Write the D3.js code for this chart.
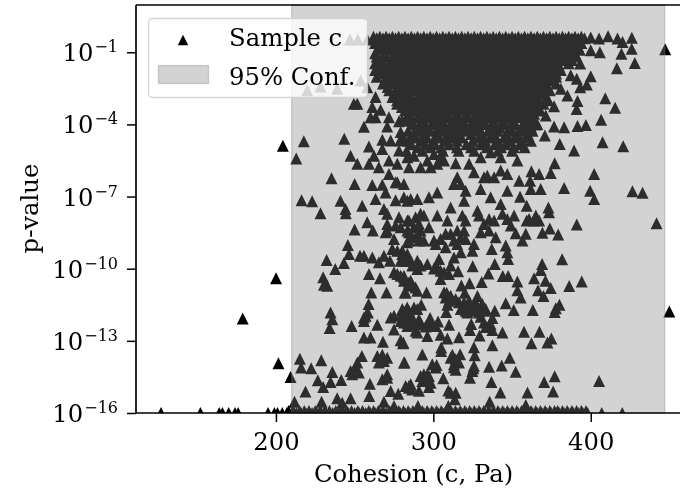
<!DOCTYPE html>
<html><head><meta charset="utf-8">
<script src="https://cdnjs.cloudflare.com/ajax/libs/d3/7.8.5/d3.min.js"></script>
<style>html,body{margin:0;padding:0;background:#fff}svg{display:block;filter:blur(0.4px)}text{font-family:"DejaVu Serif",serif;fill:#000}</style>
</head><body><div id="chart"></div>
<script>
const xTicks=[200,300,400];
const yTickExps=[-1,-4,-7,-10,-13,-16];
const xLabel="Cohesion (c, Pa)";
const yLabel="p-value";
const legendLabels=["Sample c","95% Conf."];
const confInterval=[210,447];
const floorExp=-16;
const nearFloorExp=-15.92;
// samples pinned at the p-value floor
const floorC=[127,152,164,166,170,174,176,195,199,201,204,207,210,213,216,219,223,226,229,232,236,240,243,246,250,253,257,260,263,266,270,273,276,279,282,285,288,291,294,297,300,303,306,309,312,315,318,321,324,327,330,333,336,339,342,345,348,351,354,357,360,363,366,369,372,375,378,380,383,386,389,392,395,398,407,420];
const nearFloorC=[208,211,215,218,221,225,228,231,234,238,242,245,248,252,255,259,262,265,268,272,275,278,281,284,287,290,293,296,299,302,305,308,311,314,317,320,323,326,329,332,335,338,341,344,347,350,353,356,359,362,365,368,371,374,377,379,382,385,388,391,394,397];
// rows through the dense cloud
const denseExp=[-0.36,-0.62,-0.9,-1.18,-1.46,-1.74,-2.02,-2.3,-2.58,-2.86,-3.14,-3.42,-3.7,-3.98,-4.26,-4.54,-4.82,-5.1];
const denseC=[
[262,266,270,274,278,282,286,290,294,298,302,306,310,314,318,322,326,330,334,338,342,346,350,354,358,362,366,370,374,378,382,386,390,394],
[263,269,275,280,285,290,295,300,305,310,315,320,325,330,335,340,345,350,355,360,365,370,375,380,385,390,394],
[266,272,278,283,288,293,298,303,308,313,318,323,328,333,338,343,348,353,358,363,368,373,378,383,388,393],
[264,270,276,281,286,291,296,301,306,311,316,321,326,331,336,341,346,351,356,361,366,371,376,381,386,391],
[263,268,274,279,284,289,294,299,304,309,314,319,324,329,334,339,344,349,354,359,364,369,374,379,386],
[263,270,276,281,286,291,296,301,306,311,316,321,326,331,336,341,346,351,356,361,366,371,376,381],
[264,271,277,282,287,292,297,302,307,312,317,322,327,332,337,342,347,352,357,362,367,372,378],
[268,274,280,285,290,295,300,305,310,315,320,325,330,335,340,345,350,355,360,365,370,378],
[272,278,283,288,293,298,303,308,313,318,323,328,333,338,343,348,353,358,363,368,374],
[274,280,285,290,295,300,305,310,315,320,325,330,335,340,345,350,355,360,365,372],
[277,283,289,294,299,304,309,314,319,324,329,334,339,344,349,354,359,364,370],
[282,288,294,300,306,312,318,324,330,336,342,348,354,360,368],
[283,290,296,303,309,316,322,329,335,342,348,355,361],
[287,293,300,307,313,319,326,332,339,345,352,360,366],
[284,291,298,306,312,320,327,335,341,349,356,363],
[281,289,296,304,313,318,329,336,345,352,359],
[286,295,301,310,321,330,339,346,355],
[283,293,306,316,326,341,350]];
// staggered rows that close the gaps inside the dense cloud
const fillExp=[-0.42,-0.76,-1.04,-1.32,-1.6,-1.88,-2.16,-2.44,-2.72,-3,-3.28,-3.56,-3.84,-4.12,-4.4,-4.68,-4.95];
const fillC=[
[264,268,272,276,280,284,288,292,296,300,304,308,312,316,320,324,328,332,336,340,344,348,352,356,360,364,368,372,376,380,384,388,392,396],
[266,272,277,282,287,292,297,302,307,312,317,322,327,332,337,342,347,352,357,362,367,372,377,382,387,392],
[263,269,275,280,285,290,295,300,305,310,315,320,325,330,335,340,345,350,355,360,365,370,375,380,385,390],
[267,273,278,283,288,293,298,303,308,313,318,323,328,333,338,343,348,353,358,363,368,373,378,383,388],
[266,271,276,281,286,291,296,301,306,311,316,321,326,331,336,341,346,351,356,361,366,371,376,380],
[267,273,278,283,288,293,298,303,308,313,318,323,328,333,338,343,348,353,358,363,368,373,378],
[269,274,279,284,289,294,299,304,309,314,319,324,329,334,339,344,349,354,359,364,369,375],
[271,277,282,287,292,297,302,307,312,317,322,327,332,337,342,347,352,357,362,367,372],
[275,280,285,291,296,301,306,311,316,321,326,331,336,341,346,351,356,361,366,370],
[277,282,287,292,297,302,307,312,317,322,327,332,337,342,347,352,357,362,367,373],
[280,286,291,296,301,306,311,316,321,326,331,336,341,346,351,356,361,366],
[285,291,297,303,309,315,321,327,333,339,345,351,357,364],
[280,286,293,300,306,313,319,326,332,338,345,351,358,363],
[290,296,303,310,316,323,329,336,342,349,356,362],
[287,294,302,309,316,324,331,338,346,353,360],
[284,292,300,308,315,325,333,341,349,356,362],
[290,298,305,315,324,334,343,351,358]];
// individually read samples: c (Pa), log10(p)
const upperTail=[[247,-0.47],[252,-0.47],[258,-0.47],[400,-0.39],[405.3,-0.43],[411,-0.33],[417,-0.43],[420.2,-0.57],[426.1,-0.4],[426,-0.85],[419.5,-1.06],[428,-1.45],[416.6,-1.67],[447.3,-0.88],[400,-0.92],[405.8,-1],[393.3,-1.47],[387.3,-1.96],[391.1,-2.1],[400,-2],[393.3,-2.45],[397.5,-2.34],[381,-2.52],[385.2,-2.8],[391.6,-3.03],[391,-3.36],[409.2,-2.91],[415.5,-3.31],[406.6,-3.81],[396.9,-4.02],[391.6,-4.07],[383.1,-4.12],[376.7,-4.09],[371.4,-3.63],[376.7,-3.25],[365.1,-4],[370.8,-4.46],[407.5,-4.74],[420.6,-4.91],[389.4,-5.09],[380.3,-4.81],[377.1,-5.62],[374.6,-6.02],[402.2,-6.06],[383.1,-6.64],[399.6,-6.76],[402.2,-7.1],[426.5,-6.78],[432.9,-6.84],[367.2,-6.06],[362.3,-5.95],[361.5,-6.34],[361.9,-6.69],[368.2,-6.69],[354.5,-6.34],[347,-6.76],[355.1,-7.01],[359.3,-7.38],[373.1,-7.45]];
const legendSide=[[219.9,-2.58],[228.3,-2.42],[238.9,-2.52],[253.8,-2.17],[258,-2.45],[249.5,-3.14],[251.7,-3.14],[263.3,-2.86],[261.2,-3.28],[266.5,-3.39],[263.3,-3.7],[260.1,-3.7],[255.9,-4.1],[271.8,-3.7],[270.7,-4.09],[278.2,-3.87],[284.5,-3.77],[279.2,-4.32],[204.4,-4.89],[217.7,-4.7],[243.4,-4.6],[212.9,-5.42],[247.4,-5.3],[251.7,-5.64],[259.1,-4.92],[262.3,-5.3],[259.1,-5.64],[265.4,-5.78],[267.6,-4.64],[267.6,-5.02],[272.9,-4.67],[278.8,-4.67],[278.2,-5.09],[271.8,-5.5],[277.1,-5.64],[283.5,-5.37],[271.8,-6.06],[277.1,-6.41],[284.5,-5.78],[281.3,-6.48],[235.3,-6.24],[250,-6.48],[261.2,-6.52],[267.6,-6.51],[269.7,-6.83],[276,-6.41],[276,-7.15],[263.3,-7.1],[283.5,-7.17],[216.3,-7.15],[223,-7.2],[241,-7.17],[254.8,-7.38],[244.2,-7.52],[268.6,-7.52]];
const midCluster=[[300.4,-5.23],[296.2,-5.5],[304.6,-5.37],[291.9,-5.78],[298.3,-5.78],[302.5,-5.64],[287.7,-5.3],[306.8,-5.5],[314.2,-5.62],[325.8,-5.99],[322.7,-5.64],[330.1,-5.37],[336.4,-5.16],[342.8,-5.37],[353.4,-5.5],[342.8,-5.92],[347,-6.06],[334.3,-6.13],[332.2,-6.2],[338.6,-6.2],[315.2,-6.2],[313.1,-6.48],[317.4,-6.48],[320.5,-6.76],[330.1,-6.69],[336.4,-7.03],[342.8,-7.31],[311,-7.45],[297.2,-7.03],[285.6,-7.1],[289.8,-7.1],[281.3,-7.03],[302.5,-6.83],[319.5,-7.17],[328,-7.59]];
const lowerLeft=[[200.1,-10.4],[178.9,-12.07],[201.6,-13.93],[228.3,-7.69],[244.4,-7.69],[258,-8.07],[261.6,-8.41],[250,-8.37],[270.7,-8.14],[269.7,-8.48],[276,-8.2],[278.2,-7.86],[270.7,-7.72],[283.5,-8],[245.7,-9.01],[246.4,-9.39],[253.4,-9.46],[255.9,-9.46],[261.2,-9.53],[265.4,-9.73],[268.6,-9.46],[272.4,-9.67],[273.9,-9.18],[280.3,-9.25],[281.3,-9.67],[275,-8.76],[284.5,-8.83],[232.2,-9.64],[237.7,-10.01],[243.2,-9.76],[259.1,-10.22],[266.1,-10.4],[275,-10.15],[279.2,-10.29],[284.5,-10.57],[230,-10.36],[230.5,-10.67],[232.6,-10.71],[260.6,-10.99],[270.3,-10.99],[281.8,-10.99],[258.9,-11.47],[234.7,-11.82],[235.8,-12.1],[234.1,-12.47],[248.1,-12.38],[257,-11.96],[255.9,-12.17],[264.4,-12.33],[275,-12.53],[275,-11.96],[280.3,-11.75],[281.3,-12.24],[284.5,-11.75],[255.9,-12.86],[260.1,-12.86],[268,-13.04],[279.2,-12.97],[280.9,-13.1],[254.6,-13.63],[267.6,-13.58],[270.7,-13.7],[265.4,-13.9],[281.3,-13.9],[215.2,-13.74],[216,-14.11],[222.4,-14.14],[228.8,-13.81],[235.8,-14.29],[209.3,-14.5],[251.7,-13.9],[247.4,-14.25],[252.7,-14.32],[241.5,-14.63],[234.7,-14.71],[226.6,-14.64],[230,-14.92],[270.7,-14.39],[267.6,-14.6],[259.7,-14.78],[284.5,-14.88],[218.8,-15.11],[272.9,-15.09],[277.7,-15.2],[259.3,-15.29],[268.6,-15.53],[247.4,-15.39],[238.9,-15.39],[242.1,-15.57],[229,-15.53],[211.8,-15.53],[275,-15.71],[264.4,-13.63],[268.6,-13.84],[270.7,-14.53],[248.5,-14.39],[250.6,-14.11],[277.1,-9.25],[283.5,-9.39],[283.5,-9.67],[277.1,-10.22],[281.3,-10.36],[280.3,-11.89],[283.5,-12.03],[283.5,-12.38],[272.9,-12.03],[255.9,-12.03],[258.4,-11.82],[279.2,-8.28],[270.7,-8.41],[283.5,-8.41]];
const lowerRight=[[441.8,-8.11],[391.1,-8.16],[379.3,-8.58],[374,-8.33],[369.3,-8.5],[381.8,-9.61],[394.3,-10.53],[386.3,-10.72],[369.1,-9.8],[368.2,-10.05],[364,-10.4],[371.2,-10.5],[374.6,-10.8],[366.5,-10.9],[370,-11.14],[380.1,-11.5],[377.8,-11.64],[377.1,-11.8],[363.2,-11.72],[351.1,-11.72],[346,-11.44],[355.5,-11.2],[353.4,-10.9],[353.4,-10.53],[347.5,-10.3],[344.1,-10.3],[339,-9.8],[325,-9.9],[335,-10.2],[330.7,-10.55],[323,-10.6],[317.8,-10.7],[328,-11.14],[320,-11],[308.5,-11],[307.8,-11.2],[314.2,-11.26],[308.9,-11.5],[308.2,-11.8],[319.5,-11.6],[322.6,-11.6],[325.8,-11.54],[330,-11.6],[332.2,-11.75],[320.5,-11.75],[324.8,-11.75],[339,-11.75],[337.5,-12.05],[330,-12],[335.4,-12.4],[333.3,-12.42],[337.5,-12.55],[324.1,-12.3],[323.3,-12.55],[310,-12.33],[297.9,-12.05],[303,-12.2],[297.2,-12.3],[295.1,-12.4],[289.8,-12.65],[296.2,-12.8],[304.6,-12.75],[308.9,-12.9],[316.3,-12.85],[329.4,-12.78],[343.9,-12.65],[357.6,-12.62],[367.4,-12.62],[362.3,-13.1],[372.5,-13.07],[375,-12.9],[337.5,-13.18],[449.9,-11.78],[325.8,-13.27],[326.3,-13.6],[305,-13.28],[305,-13.42],[293,-13.57],[312.1,-13.58],[317,-13.56],[316.3,-13.9],[313.1,-14.1],[314.2,-14.2],[302.1,-14],[281.7,-13.9],[325.4,-14.14],[323.3,-14.53],[335.4,-14.08],[343.4,-14.03],[348.5,-13.7],[352.3,-14.28],[336.9,-14.71],[342.6,-15.15],[335.8,-15.53],[359.8,-15.15],[370.4,-14.71],[377.1,-14.47],[376.1,-15.11],[405.3,-14.67],[306.3,-14.56],[309.5,-15.06],[314.2,-15.16],[313.6,-15.43],[294,-14.39],[297.2,-14.46],[297.2,-14.92],[293,-14.67],[285.6,-14.8],[290.9,-15.08],[290.2,-15.71],[309.5,-15.71],[358.7,-15.67],[291.9,-7.72],[302.5,-7.79],[308.9,-8],[318.4,-7.79],[320.5,-8],[329,-7.79],[335.4,-7.93],[343.9,-7.72],[347,-7.93],[351.3,-7.79],[359.3,-8],[365.1,-7.79],[367.2,-8],[373.5,-7.65],[287.7,-8.28],[290.9,-8.14],[297.2,-8.28],[286.6,-8.69],[289.8,-8.55],[294,-8.83],[300.4,-8.83],[301.5,-8.97],[307.8,-9.11],[307.8,-8.55],[315.2,-8.41],[317.4,-8.69],[315.2,-8.97],[325.8,-8.97],[330.1,-8.48],[335.4,-8.41],[339.6,-8.69],[352.3,-8.53],[356.6,-8.83],[358.7,-8.55],[324.8,-9.25],[337.1,-9.18],[346,-9.04],[347,-9.32],[347.5,-9.6],[317.4,-9.32],[313.1,-9.53],[311,-9.87],[315.7,-10.11],[304.6,-10.08],[302.5,-9.94],[303.6,-9.6],[296.2,-9.8],[289.8,-9.67],[285.6,-9.67],[289.8,-10.01],[280.3,-9.39],[279.2,-9.67],[281.3,-10.29],[285.6,-10.5],[288.7,-10.78],[295.7,-10.99],[282.4,-10.99],[280.3,-11.68],[283.4,-11.61],[287.7,-11.61],[292.3,-11.5],[285.6,-11.89],[283.4,-12.24],[287.7,-12.31],[279.2,-12.17],[280.9,-13.07],[284.5,-8],[288.7,-7.86],[294,-7.79],[291.9,-8.41],[284.5,-8.48],[283.4,-8.9],[290.9,-8.83],[304.6,-8.76],[311,-8.55],[313.1,-8.83],[319.5,-8.41],[320.5,-8.76],[332.2,-8.14],[338.6,-8],[349.2,-8.2],[360.8,-7.93],[364,-8],[283.4,-9.67],[286.6,-9.87],[291.9,-9.87],[300.4,-9.99],[306.8,-10.15],[309.9,-10.22],[304.6,-10.43],[281.3,-10.5],[284.5,-10.71],[289.8,-10.92],[306.8,-10.98],[311,-11.12],[309.9,-11.33],[316.3,-11.4],[319.5,-11.4],[322.7,-11.33],[326.9,-11.4],[331.1,-11.47],[333.3,-11.68],[317.4,-11.68],[321.6,-11.82],[329,-11.82],[282.4,-11.75],[289.8,-11.68],[281.3,-12],[286.6,-12.1],[290.9,-12.1],[291.9,-12.31],[298.3,-12.31],[301.5,-12.38],[332.2,-12.24],[336.4,-12.31],[288.7,-12.58],[311,-13.7],[314.2,-13.77],[313.1,-13.97],[296.2,-14.39],[291.9,-14.46],[295.1,-14.67],[298.3,-14.74],[284.5,-14.95],[286.6,-15.02],[282.4,-14.88],[311,-15.16],[324.8,-14.25],[325.8,-14.04],[301.5,-14.11],[299.3,-13.97]];

const W=680,H=491,m={l:136,r:680,t:5,b:413};
const x=d3.scaleLinear().domain([111.1,456.7]).range([m.l,m.r]);
const y=d3.scaleLog().domain([1e-16,Math.pow(10,0.965)]).range([m.b,m.t]);
const svg=d3.select("#chart").append("svg").attr("width",W).attr("height",H);
svg.append("defs").append("clipPath").attr("id","plot").append("rect").attr("x",m.l).attr("y",m.t).attr("width",m.r-m.l).attr("height",m.b-m.t);

const points=[];
floorC.forEach(c=>points.push([c,floorExp]));
nearFloorC.forEach(c=>points.push([c,nearFloorExp]));
denseExp.forEach((e,i)=>denseC[i].forEach(c=>points.push([c,e])));
fillExp.forEach((e,i)=>fillC[i].forEach(c=>points.push([c,e])));
[upperTail,legendSide,midCluster,lowerLeft,lowerRight].forEach(g=>g.forEach(p=>points.push(p)));
const triangleUp={draw(ctx,size){const r=Math.sqrt(size)/2;ctx.moveTo(0,-r);ctx.lineTo(r,r);ctx.lineTo(-r,r);ctx.closePath();}};
const tri=d3.symbol().type(triangleUp).size(144);
svg.append("g").attr("clip-path","url(#plot)").selectAll("path").data(points).join("path")
  .attr("d",tri).attr("fill","#000")
  .attr("transform",d=>`translate(${x(d[0])},${y(Math.pow(10,d[1]))})`);
svg.append("rect").attr("x",x(confInterval[0])).attr("y",m.t).attr("width",x(confInterval[1])-x(confInterval[0])).attr("height",m.b-m.t)
  .attr("fill","#808080").attr("fill-opacity",0.35).attr("stroke","#808080").attr("stroke-opacity",0.35).attr("stroke-width",1.3);

const xAxis=svg.append("g").attr("transform",`translate(0,${m.b})`).call(d3.axisBottom(x).tickValues(xTicks).tickSize(9).tickPadding(11).tickFormat(d3.format("d")));
const yAxis=svg.append("g").attr("transform",`translate(${m.l},0)`).call(d3.axisLeft(y).tickValues(yTickExps.map(e=>Math.pow(10,e))).tickSize(9).tickPadding(9).tickFormat(()=>""));
yAxis.selectAll(".tick text").attr("dy","8.5px").each(function(d,i){
  const t=d3.select(this);
  t.append("tspan").text("10");
  t.append("tspan").attr("class","sup").attr("dy","-9px").attr("dx","1px").text("\u2212"+Math.abs(yTickExps[i]));
});
[xAxis,yAxis].forEach(a=>{
  a.selectAll("text").style("font-size","24.3px").style("font-family","'DejaVu Serif',serif");
  a.selectAll(".domain").remove();
  a.selectAll("line").attr("stroke","#000").attr("stroke-width",1.5);
});
yAxis.selectAll("tspan.sup").style("font-size","16px");
svg.append("g").selectAll("line").data([[m.l,m.t,m.r,m.t],[m.l,m.b,m.r,m.b],[m.l,m.t,m.l,m.b]]).join("line")
  .attr("x1",d=>d[0]).attr("y1",d=>d[1]).attr("x2",d=>d[2]).attr("y2",d=>d[3]).attr("stroke","#000").attr("stroke-width",1.7);

svg.append("text").attr("x",413.5).attr("y",482).attr("text-anchor","middle").style("font-size","24.3px").text(xLabel);
svg.append("text").attr("transform",`translate(38,208.5) rotate(-90)`).attr("text-anchor","middle").style("font-size","24.3px").text(yLabel);

const lg=svg.append("g");
lg.append("rect").attr("x",148.5).attr("y",18.5).attr("width",219).attr("height",79).attr("rx",4).attr("fill","#fff").attr("fill-opacity",0.8).attr("stroke","#ccc").attr("stroke-opacity",0.8).attr("stroke-width",1.4);
lg.append("path").attr("d",d3.symbol().type(triangleUp).size(110)).attr("transform","translate(183,40)").attr("fill","#000");
lg.append("rect").attr("x",158.5).attr("y",65.5).attr("width",50).attr("height",18).attr("fill","#808080").attr("fill-opacity",0.35).attr("stroke","#808080").attr("stroke-opacity",0.35).attr("stroke-width",1.3);
lg.append("text").attr("x",229).attr("y",46).style("font-size","24.3px").text(legendLabels[0]);
lg.append("text").attr("x",229).attr("y",85).style("font-size","24.3px").text(legendLabels[1]);
</script></body></html>
